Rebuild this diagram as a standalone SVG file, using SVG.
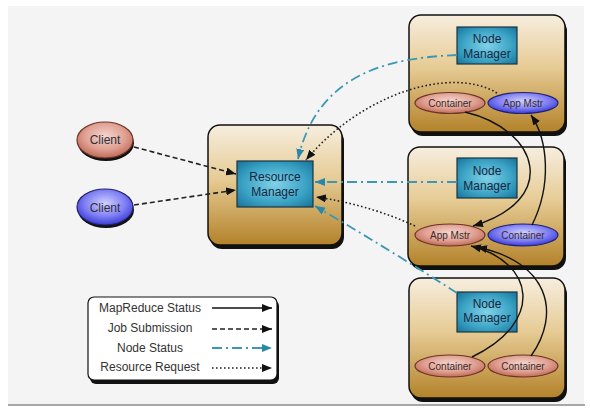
<svg xmlns="http://www.w3.org/2000/svg" width="590" height="412" viewBox="0 0 590 412">
<defs>
<style>
.box{fill:url(#tan);stroke:#111;stroke-width:1.5}
.shadow{fill:#111}
.nm{fill:url(#teal);stroke:#1d3440;stroke-width:1.2}
.pink{fill:url(#pinkG);stroke:#6e3426;stroke-width:1.2}
.blue{fill:url(#blueG);stroke:#22226e;stroke-width:1.2}
.t{font-family:"Liberation Sans",Arial,sans-serif;text-anchor:middle}
.nmt{font-size:12px;fill:#17263e}
.et{font-size:10px;fill:#3a2a2a}
.ct{font-size:12px;fill:#2e2e3a}
.lt{font-size:12px;fill:#333}
.mr{fill:none;stroke:#111;stroke-width:1.4;marker-end:url(#ab)}
.job{fill:none;stroke:#222;stroke-width:1.6;stroke-dasharray:5 3;marker-end:url(#ab)}
.ns{fill:none;stroke:#3d97b4;stroke-width:1.8;stroke-dasharray:10 4 2 4;marker-end:url(#at)}
.rr{fill:none;stroke:#222;stroke-width:1.6;stroke-dasharray:1.6 2.4;marker-end:url(#ab)}
</style>
<marker id="ab" viewBox="0 0 10 8" refX="10" refY="4" markerWidth="10" markerHeight="8" markerUnits="userSpaceOnUse" orient="auto"><path d="M0,0 L10,4 L0,8 z" fill="#111"/></marker>
<marker id="at" viewBox="0 0 10 8" refX="10" refY="4" markerWidth="10" markerHeight="8" markerUnits="userSpaceOnUse" orient="auto"><path d="M0,0 L10,4 L0,8 z" fill="#2a87aa"/></marker>
<linearGradient id="tan" x1="0" y1="0" x2="0" y2="1">
<stop offset="0" stop-color="#f7eedf"/><stop offset="0.45" stop-color="#e6cb94"/><stop offset="1" stop-color="#b3822a"/>
</linearGradient>
<radialGradient id="teal" cx="0.5" cy="0.5" r="0.7">
<stop offset="0" stop-color="#7fd2e8"/><stop offset="0.6" stop-color="#3aa2c4"/><stop offset="1" stop-color="#17729a"/>
</radialGradient>
<radialGradient id="pinkG" cx="0.5" cy="0.4" r="0.6">
<stop offset="0" stop-color="#f6d6cf"/><stop offset="0.6" stop-color="#e0a193"/><stop offset="1" stop-color="#c06a58"/>
</radialGradient>
<radialGradient id="blueG" cx="0.5" cy="0.4" r="0.6">
<stop offset="0" stop-color="#d0d0ff"/><stop offset="0.6" stop-color="#8080f4"/><stop offset="1" stop-color="#3a3ad8"/>
</radialGradient>
</defs>

<rect x="0" y="0" width="590" height="412" fill="#ffffff"/>
<rect x="8" y="6" width="576" height="398" fill="#f4f4f4"/>
<line x1="8" y1="405" x2="585" y2="405" stroke="#8a8a8a" stroke-width="1.5"/>

<g id="resource-manager">
<rect class="shadow" x="210" y="129" width="134" height="120" rx="12"/>
<rect class="box" x="208" y="125" width="134" height="120" rx="12"/>
<rect class="nm" x="237" y="161" width="76" height="46"/>
<text class="t nmt" x="275" y="181">Resource</text>
<text class="t nmt" x="275" y="196">Manager</text>
</g>

<g id="node1">
<rect class="shadow" x="411" y="19" width="156" height="117" rx="12"/>
<rect class="box" x="409" y="15" width="156" height="117" rx="12"/>
<rect class="nm" x="457" y="27" width="60" height="37"/>
<text class="t nmt" x="487" y="43">Node</text>
<text class="t nmt" x="487" y="58">Manager</text>
<g id="node1-container"><ellipse class="pink" cx="450" cy="103" rx="35" ry="10.5"/><text class="t et" x="450" y="106.5">Container</text></g>
<g id="node1-appmstr"><ellipse class="blue" cx="523" cy="103" rx="35" ry="10.5"/><text class="t et" x="523" y="106.5" fill="#1a1a4a">App Mstr</text></g>
</g>

<g id="node2">
<rect class="shadow" x="410" y="151" width="156" height="119" rx="12"/>
<rect class="box" x="408" y="147" width="156" height="119" rx="12"/>
<rect class="nm" x="457" y="158" width="60" height="40"/>
<text class="t nmt" x="487" y="175">Node</text>
<text class="t nmt" x="487" y="189.5">Manager</text>
<g id="node2-appmstr"><ellipse class="pink" cx="450" cy="235" rx="35" ry="11"/><text class="t et" x="450" y="238.5">App Mstr</text></g>
<g id="node2-container"><ellipse class="blue" cx="523" cy="235" rx="35" ry="11"/><text class="t et" x="523" y="238.5" fill="#1a1a4a">Container</text></g>
</g>

<g id="node3">
<rect class="shadow" x="411" y="282" width="156" height="120" rx="12"/>
<rect class="box" x="409" y="278" width="156" height="120" rx="12"/>
<rect class="nm" x="457" y="292" width="60" height="40"/>
<text class="t nmt" x="487" y="308">Node</text>
<text class="t nmt" x="487" y="322">Manager</text>
<g id="node3-container1"><ellipse class="pink" cx="450" cy="366" rx="35" ry="11"/><text class="t et" x="450" y="369.5">Container</text></g>
<g id="node3-container2"><ellipse class="pink" cx="523" cy="366" rx="35" ry="11"/><text class="t et" x="523" y="369.5">Container</text></g>
</g>

<g id="client1">
<ellipse cx="106" cy="143" rx="28" ry="18" fill="#111"/>
<ellipse class="pink" cx="105" cy="140" rx="28" ry="18"/>
<text class="t ct" x="105" y="144">Client</text>
</g>
<g id="client2">
<ellipse cx="106" cy="210" rx="28" ry="18" fill="#111"/>
<ellipse class="blue" cx="105" cy="207" rx="28" ry="18"/>
<text class="t ct" x="105" y="211.5">Client</text>
</g>

<g id="legend">
<rect x="90" y="300" width="189" height="84" rx="6" fill="#111"/>
<rect x="88" y="297" width="189" height="83" rx="6" fill="#ffffff" stroke="#111" stroke-width="1.2"/>
<text class="t lt" x="150" y="312">MapReduce Status</text>
<text class="t lt" x="150" y="332">Job Submission</text>
<text class="t lt" x="150" y="352">Node Status</text>
<text class="t lt" x="150" y="371">Resource Request</text>
<line class="mr" x1="212" y1="308" x2="272" y2="308"/>
<line class="job" x1="212" y1="329" x2="272" y2="329"/>
<line class="ns" x1="212" y1="348" x2="272" y2="348"/>
<line class="rr" x1="212" y1="368" x2="272" y2="368"/>
</g>

<g id="connectors">
<path class="job" d="M134,147 L236,174"/>
<path class="job" d="M134,205 L236,190"/>
<path class="ns" d="M457,55 C390,58 318,72 298,159"/>
<path class="rr" d="M497,93 C450,65 360,95 306,160"/>
<path class="ns" d="M457,182 L315,182"/>
<path class="rr" d="M415,226 Q370,205 316,197"/>
<path class="ns" d="M457,293 Q390,250 315,206"/>
<path class="mr" d="M465,112 C540,130 560,200 473,226"/>
<path class="mr" d="M532,225 C552,185 548,140 531,115"/>
<path class="mr" d="M472,357 C545,322 535,262 471,246"/>
<path class="mr" d="M531,356 C562,312 548,262 477,247"/>
</g>
</svg>
